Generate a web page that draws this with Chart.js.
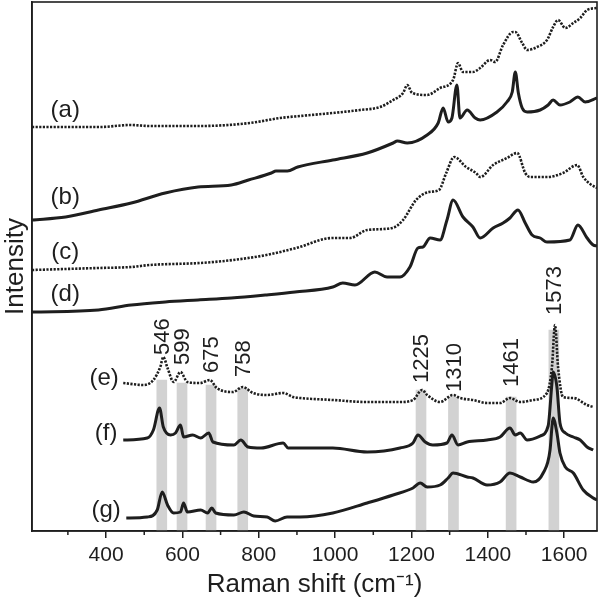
<!DOCTYPE html>
<html>
<head>
<meta charset="utf-8">
<script src="https://cdn.jsdelivr.net/npm/chart.js@4.4.1/dist/chart.umd.min.js"></script>
<style>
  html, body { margin: 0; padding: 0; background: #fff; }
</style>
</head>
<body>
<canvas id="raman" width="600" height="600"></canvas>
<script>
// Raman shift (cm-1) and intensity (offset, arbitrary units)
const aShift = [206,253,300,384,463,515,646,777,856,908,994,1065,1118,1152,1178,1189,1202,1241,1275,1309,1322,1335,1361,1380,1406,1419,1440,1466,1472,1490,1503,1529,1555,1571,1584,1603,1624,1642,1660,1686];
const aInt   = [404,404,404,404,406,405,405,408,413,415,418,421,424,431,438,446,438,436,443,451,468,459,459,463,471,469,486,499,499,488,481,484,491,504,511,503,508,513,521,523];

const bShift = [206,294,380,466,555,641,728,773,833,845,875,902,994,1084,1152,1163,1189,1241,1270,1283,1296,1306,1319,1327,1346,1367,1380,1424,1450,1464,1472,1480,1490,1503,1537,1558,1571,1589,1615,1636,1655,1686];
const bInt   = [311,314,321,328,338,344,346,351,358,360,360,364,371,378,388,390,388,396,408,423,409,413,446,413,421,413,411,419,429,439,459,438,423,419,421,426,431,426,429,434,429,433];

const cShift = [206,380,466,515,646,733,820,898,994,1039,1084,1150,1178,1212,1246,1272,1291,1312,1343,1369,1380,1414,1450,1477,1498,1511,1555,1597,1634,1650,1668,1686];
const cInt   = [261,263,264,266,268,271,276,283,293,293,301,303,311,331,339,341,358,374,364,358,354,366,373,378,358,354,354,358,366,354,347,343];

const dShift = [206,380,466,555,641,728,817,895,994,1020,1052,1104,1136,1170,1196,1217,1230,1249,1275,1293,1309,1335,1361,1380,1414,1440,1458,1479,1498,1516,1537,1555,1615,1636,1660,1676,1686];
const dInt   = [219,221,226,229,231,233,236,239,244,248,246,259,254,254,264,283,284,293,291,311,331,314,304,293,303,308,313,321,308,296,293,289,291,306,293,286,285];

const eShift = [445,498,524,542,550,561,577,595,613,646,672,690,732,758,785,822,864,890,908,994,1084,1170,1204,1228,1241,1275,1309,1327,1361,1398,1432,1458,1485,1519,1555,1568,1576,1584,1597,1624,1660,1676];
const eInt   = [148,146,151,164,174,163,149,159,149,148,151,143,139,144,138,136,138,134,133,131,129,129,131,141,136,129,136,133,131,128,128,133,129,131,138,164,206,164,134,133,126,124];

const fShift = [445,508,524,540,550,569,582,595,603,627,648,669,680,735,753,772,806,864,877,908,994,1084,1170,1204,1217,1236,1256,1293,1306,1322,1346,1398,1432,1458,1472,1485,1503,1537,1558,1568,1571,1581,1589,1603,1624,1642,1660,1676];
const fInt   = [91,93,101,123,104,96,98,106,94,96,93,98,89,86,91,84,83,88,83,83,83,79,83,88,96,89,86,88,96,86,89,91,94,103,96,98,91,95,105,148,159,144,108,98,94,91,84,81];

const gShift = [453,508,534,547,561,577,595,603,613,648,666,677,687,735,761,787,822,843,874,908,994,1084,1152,1204,1223,1241,1275,1296,1309,1346,1361,1398,1432,1458,1485,1519,1545,1563,1568,1571,1581,1589,1603,1624,1650,1676,1686];
const gInt   = [13,14,21,39,26,18,19,28,19,21,18,23,18,16,19,15,14,10,14,14,18,28,36,43,48,44,46,53,58,54,53,46,49,58,54,49,58,81,104,113,98,78,64,58,41,33,31];

// marked bands and their labels
const peaks     = [546,599,675,758,1225,1310,1461,1573];
const bandTop   = [151,148,146,143,141,134,134,201];
const labelBase = [176,166,158,154,148,139,144,216];

// curve names and where they sit
const curveNames = ['(a)','(b)','(c)','(d)','(e)','(f)','(g)'];
const nameShift  = [293,293,293,293,395,400,400];
const nameInt    = [421,334,279,237,153,98,21];

const xTicks = [400,600,800,1000,1200,1400,1600];

const FONT = '"Liberation Sans", Arial, sans-serif';
const INK = '#1e1e1e';

function series(xs, ys, dotted) {
  return {
    type: 'line',
    data: xs.map((v, i) => ({ x: v, y: ys[i] })),
    borderColor: INK,
    borderWidth: dotted ? 2.6 : 3,
    borderDash: dotted ? [2.2, 1.4] : [],
    borderCapStyle: 'butt',
    borderJoinStyle: 'round',
    pointRadius: 0,
    cubicInterpolationMode: 'monotone',
    fill: false,
    order: 1
  };
}

const annotate = {
  id: 'annotate',
  afterDraw(chart) {
    const { ctx, chartArea: ca, scales: { x, y } } = chart;
    ctx.save();
    // box round the plot
    ctx.strokeStyle = INK;
    ctx.lineWidth = 1.6;
    ctx.strokeRect(ca.left, ca.top, ca.width, ca.height);
    // minor ticks
    ctx.lineWidth = 1.5;
    for (let v = 300; v < 1700; v += 200) {
      const px = x.getPixelForValue(v);
      ctx.beginPath();
      ctx.moveTo(px, ca.bottom);
      ctx.lineTo(px, ca.bottom + 4);
      ctx.stroke();
    }
    ctx.fillStyle = INK;
    // (a) ... (g)
    ctx.font = '24px ' + FONT;
    ctx.textAlign = 'center';
    ctx.textBaseline = 'middle';
    curveNames.forEach((n, i) => {
      ctx.fillText(n, x.getPixelForValue(nameShift[i]), y.getPixelForValue(nameInt[i]));
    });
    // peak labels, rotated
    ctx.font = '22px ' + FONT;
    ctx.textAlign = 'left';
    peaks.forEach((p, i) => {
      ctx.save();
      ctx.translate(x.getPixelForValue(p), y.getPixelForValue(labelBase[i]));
      ctx.rotate(-Math.PI / 2);
      ctx.fillText(String(p), 0, 1);
      ctx.restore();
    });
    ctx.restore();
  }
};

new Chart(document.getElementById('raman'), {
  type: 'line',
  data: {
    datasets: [
      {
        type: 'bar',
        data: peaks.map((p, i) => ({ x: p, y: [0, bandTop[i]] })),
        backgroundColor: '#d2d2d2',
        borderWidth: 0,
        barThickness: 10,
        order: 10
      },
      series(aShift, aInt, true),
      series(bShift, bInt, false),
      series(cShift, cInt, true),
      series(dShift, dInt, false),
      series(eShift, eInt, true),
      series(fShift, fInt, false),
      series(gShift, gInt, false)
    ]
  },
  options: {
    responsive: false,
    animation: false,
    layout: { padding: { top: 2, right: 3, left: 0, bottom: 0 } },
    plugins: { legend: { display: false }, tooltip: { enabled: false } },
    scales: {
      x: {
        type: 'linear',
        min: 206,
        max: 1686,
        offset: false,
        afterBuildTicks: s => { s.ticks = xTicks.map(v => ({ value: v })); },
        afterFit: s => { s.height = 69; },
        ticks: {
          color: INK,
          font: { size: 21, family: FONT },
          padding: 5,
          maxRotation: 0,
          autoSkip: false,
          callback: v => String(v)
        },
        grid: { offset: false, drawOnChartArea: false, drawTicks: true, tickLength: 7, color: INK, lineWidth: 1.5 },
        border: { display: true, color: INK, width: 1.6 },
        title: {
          display: true,
          text: 'Raman shift (cm\u207B\u00B9)',
          color: INK,
          font: { size: 26, family: FONT },
          padding: 0
        }
      },
      y: {
        min: 0,
        max: 529,
        afterFit: s => { s.width = 32; },
        ticks: { display: false },
        grid: { display: false },
        border: { display: true, color: INK, width: 1.6 },
        title: {
          display: true,
          text: 'Intensity',
          color: INK,
          font: { size: 26, family: FONT },
          padding: 0
        }
      }
    }
  },
  plugins: [annotate]
});
</script>
</body>
</html>
